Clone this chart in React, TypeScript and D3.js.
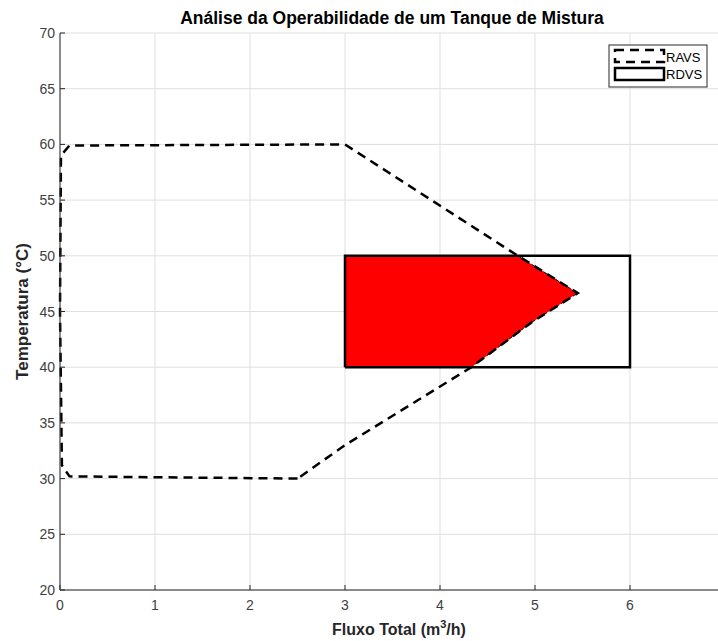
import React from "react";
import * as d3 from "d3";

const xTicks = [0, 1, 2, 3, 4, 5, 6, 7];
const xTickLabels = ["0", "1", "2", "3", "4", "5", "6", ""];
const yTicks = [20, 25, 30, 35, 40, 45, 50, 55, 60, 65, 70];

// RAVS (dashed region boundary)
const ravsX = [2.5, 0.1, 0.02, 0.0, 0.01, 0.1, 3.0, 4.82, 5.45, 4.96, 4.33, 3.0, 2.5];
const ravsY = [30.0, 30.2, 31.2, 45.0, 59.0, 59.9, 60.0, 50.0, 46.65, 44.0, 40.0, 33.0, 30.0];

// RDVS rectangle
const rdvsX = [3, 6, 6, 3, 3];
const rdvsY = [40, 40, 50, 50, 40];

// Intersection (red fill)
const interX = [3, 4.82, 5.45, 4.96, 4.33, 3, 3];
const interY = [50, 50, 46.65, 44.0, 40, 40, 50];

const legendLabels = ["RAVS", "RDVS"];

export default function App() {
  const W = 718, H = 641;
  const x = d3.scaleLinear().domain([0, 7]).range([60, 725]);
  const y = d3.scaleLinear().domain([20, 70]).range([590, 33]);
  const line = d3.line<[number, number]>().x(d => x(d[0])).y(d => y(d[1]));
  const pts = (xs: number[], ys: number[]) => xs.map((v, i) => [v, ys[i]] as [number, number]);
  const font = "Liberation Sans, Arial, Helvetica, sans-serif";
  const axisCol = "#262626";
  const tickCol = "#404040";
  return (
    <svg width={W} height={H} style={{ position: "absolute", left: 0, top: 0, background: "#fff" }} fontFamily={font}>
      <rect width={W} height={H} fill="#fff" />
      {xTicks.map(t => (
        <line key={"gx" + t} x1={x(t)} x2={x(t)} y1={y(20)} y2={y(70)} stroke="#dfdfdf" strokeWidth={1} />
      ))}
      {yTicks.map(t => (
        <line key={"gy" + t} x1={x(0)} x2={x(7)} y1={y(t)} y2={y(t)} stroke="#dfdfdf" strokeWidth={1} />
      ))}
      <path d={line(pts(interX, interY)) || ""} fill="#ff0000" stroke="#000" strokeWidth={1} strokeDasharray="4,3" />
      <path d={line(pts(rdvsX, rdvsY)) || ""} fill="none" stroke="#000" strokeWidth={2.5} />
      <path d={line(pts(ravsX, ravsY)) || ""} fill="none" stroke="#000" strokeWidth={2.5} strokeDasharray="9,6" />
      {/* axes */}
      <line x1={x(0)} x2={x(7)} y1={y(20)} y2={y(20)} stroke={axisCol} strokeWidth={1} />
      <line x1={x(0)} x2={x(0)} y1={y(20)} y2={y(70)} stroke={axisCol} strokeWidth={1} />
      {xTicks.map((t, i) => (
        <g key={"tx" + t}>
          <line x1={x(t)} x2={x(t)} y1={y(20)} y2={y(20) - 5} stroke={axisCol} />
          {xTickLabels[i] && (
            <text x={x(t)} y={y(20) + 20} textAnchor="middle" fontSize={14} fill={tickCol}>{xTickLabels[i]}</text>
          )}
        </g>
      ))}
      {yTicks.map(t => (
        <g key={"ty" + t}>
          <line x1={x(0)} x2={x(0) + 5} y1={y(t)} y2={y(t)} stroke={axisCol} />
          <text x={x(0) - 5} y={y(t) + 5} textAnchor="end" fontSize={14} fill={tickCol}>{t}</text>
        </g>
      ))}
      <text x={392} y={24} textAnchor="middle" fontSize={17.5} fontWeight="bold" fill="#000">
        Análise da Operabilidade de um Tanque de Mistura
      </text>
      <text x={399} y={635} textAnchor="middle" fontSize={16} fontWeight="bold" fill={axisCol}>
        Fluxo Total (m<tspan dy={-7} fontSize={11}>3</tspan><tspan dy={7}>/h)</tspan>
      </text>
      <text transform={`translate(28,${(y(20) + y(70)) / 2}) rotate(-90)`} textAnchor="middle" fontSize={17} fontWeight="bold" fill={axisCol}>
        Temperatura (°C)
      </text>
      {/* legend */}
      <rect x={609} y={45} width={98} height={42} fill="#fff" stroke="#262626" strokeWidth={1} />
      <rect x={615} y={50} width={49} height={12} fill="none" stroke="#000" strokeWidth={2.5} strokeDasharray="9,6" />
      <rect x={615} y={68} width={49} height={12} fill="none" stroke="#000" strokeWidth={2.5} />
      {legendLabels.map((l, i) => (
        <text key={l} x={666} y={62 + i * 17} fontSize={13} fill="#000">{l}</text>
      ))}
    </svg>
  );
}
